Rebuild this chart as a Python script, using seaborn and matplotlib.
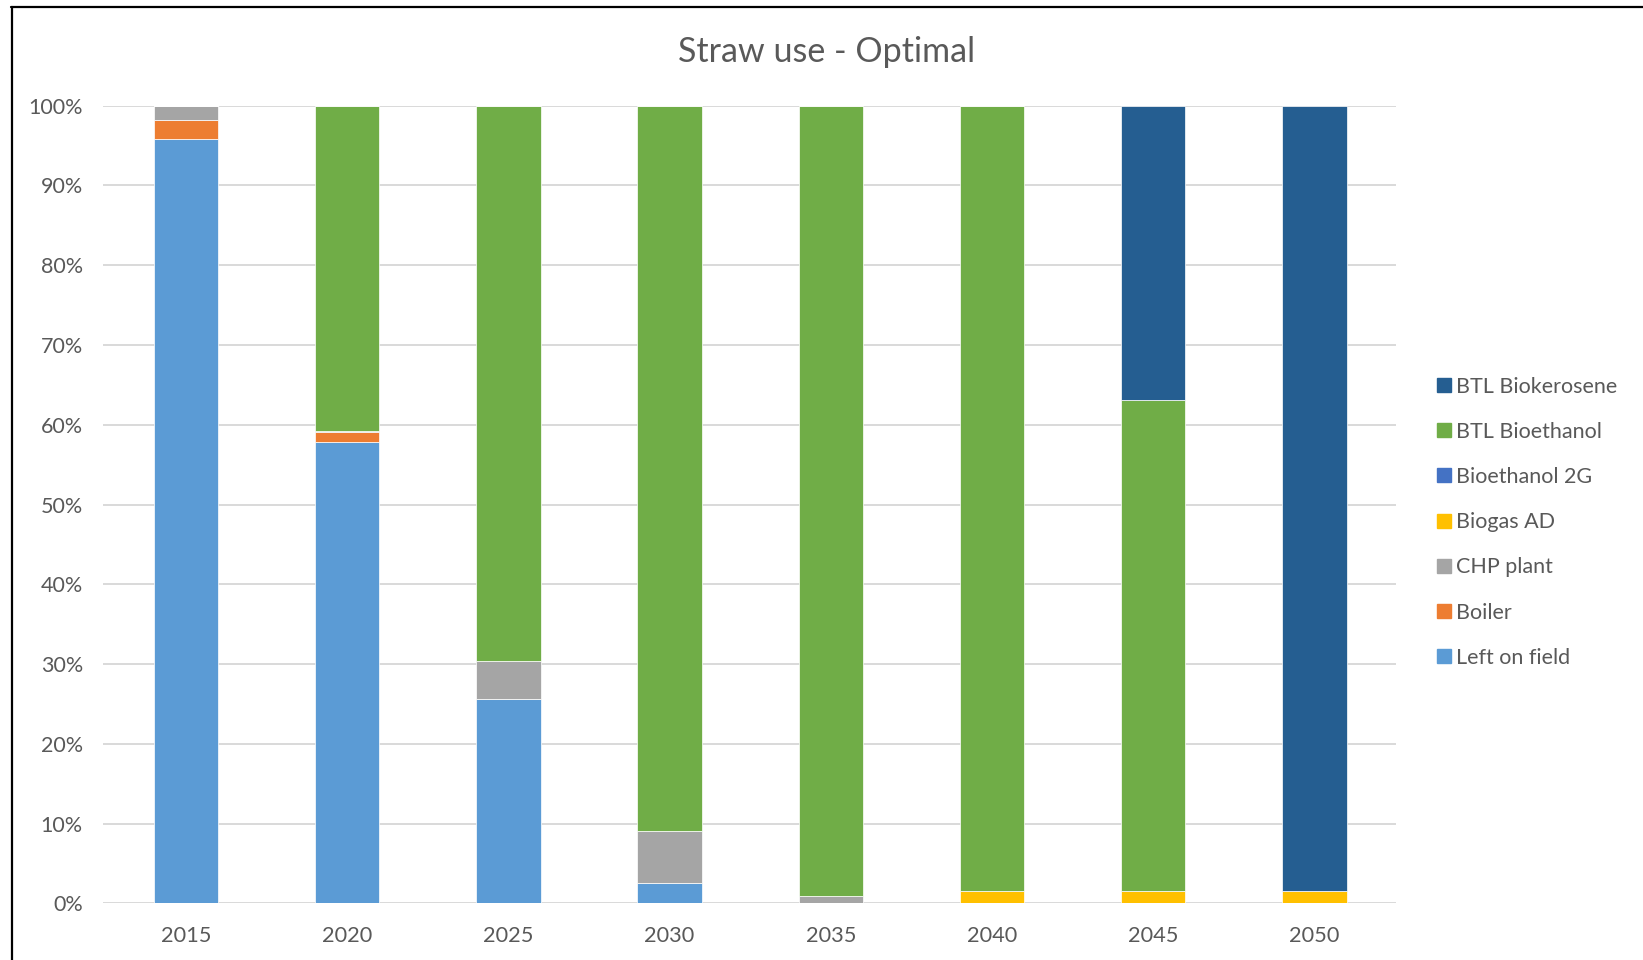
import matplotlib
matplotlib.use("Agg")
import matplotlib.pyplot as plt
from matplotlib.lines import Line2D
import seaborn as sns

years = ["2015", "2020", "2025", "2030", "2035", "2040", "2045", "2050"]

left_on_field = [95.8, 57.8, 25.6, 2.5, 0.0, 0.0, 0.0, 0.0]
boiler = [2.45, 1.23, 0.0, 0.0, 0.0, 0.0, 0.0, 0.0]
chp_plant = [1.75, 0.22, 4.8, 6.55, 0.9, 0.0, 0.0, 0.0]
biogas_ad = [0.0, 0.0, 0.0, 0.0, 0.0, 1.6, 1.6, 1.6]
bioethanol_2g = [0.0, 0.0, 0.0, 0.0, 0.0, 0.0, 0.0, 0.0]
btl_bioethanol = [0.0, 40.75, 69.6, 90.95, 99.1, 98.4, 61.46, 0.0]
btl_biokerosene = [0.0, 0.0, 0.0, 0.0, 0.0, 0.0, 36.94, 98.4]

series_names = ["Left on field", "Boiler", "CHP plant", "Biogas AD",
                "Bioethanol 2G", "BTL Bioethanol", "BTL Biokerosene"]
series_values = [left_on_field, boiler, chp_plant, biogas_ad,
                 bioethanol_2g, btl_bioethanol, btl_biokerosene]
series_colors = ["#5B9BD5", "#ED7D31", "#A5A5A5", "#FFC000",
                 "#4472C4", "#70AD47", "#255E91"]

y_ticks = [0, 10, 20, 30, 40, 50, 60, 70, 80, 90, 100]

sns.set_theme(style="white")
plt.rcParams["font.family"] = ["Lato", "DejaVu Sans"]

fig = plt.figure(figsize=(16.43, 9.60), dpi=100)
ax = fig.add_axes([103 / 1643, 1 - 903.3 / 960, (1396 - 103) / 1643, (903.3 - 105.7) / 960])

text_color = "#595959"
grid_color = "#D9D9D9"

for yt in y_ticks:
    ax.axhline(yt, color=grid_color, lw=1.4, zorder=0)

bottom = [0.0] * len(years)
handles = []
for name, vals, col in zip(series_names, series_values, series_colors):
    sns.barplot(x=years, y=vals, bottom=bottom, color=col, width=0.4,
                order=years, ax=ax, edgecolor="white", linewidth=0.5,
                saturation=1, zorder=2)
    bottom = [b + v for b, v in zip(bottom, vals)]
    handles.append(Line2D([], [], marker="s", linestyle="none", markersize=10,
                          markerfacecolor=col, markeredgecolor=col, label=name))

ax.set_xlim(-0.515, len(years) - 0.494)
ax.set_ylim(0, 100)
ax.set_yticks(y_ticks)
ax.set_yticklabels([f"{t}%" for t in y_ticks])
ax.set_xlabel("")
ax.set_ylabel("")
for s in ax.spines.values():
    s.set_visible(False)
ax.tick_params(axis="y", length=0, pad=14.5, labelsize=15.5, labelcolor=text_color)
ax.tick_params(axis="x", length=0, pad=16, labelsize=15.7, labelcolor=text_color)
ax.grid(False)

fig.text(827 / 1643, 1 - 52 / 960, "Straw use - Optimal", ha="center", va="center",
         fontsize=24.5, color=text_color)

leg = fig.legend(handles=handles[::-1], loc="upper left",
                 bbox_to_anchor=(1428 / 1643, 1 - 368 / 960),
                 frameon=False, fontsize=15.5, labelcolor=text_color,
                 handlelength=0.7, handletextpad=0.2, labelspacing=1.17,
                 borderaxespad=0)

# outer frame lines (top and left)
fig.add_artist(Line2D([11 / 1643, 1], [1 - 6.5 / 960, 1 - 6.5 / 960],
                      transform=fig.transFigure, color="black", lw=1.6))
fig.add_artist(Line2D([12 / 1643, 12 / 1643], [0, 1 - 6.5 / 960],
                      transform=fig.transFigure, color="black", lw=1.6))

fig.savefig("out.png", dpi=100, facecolor="white")
